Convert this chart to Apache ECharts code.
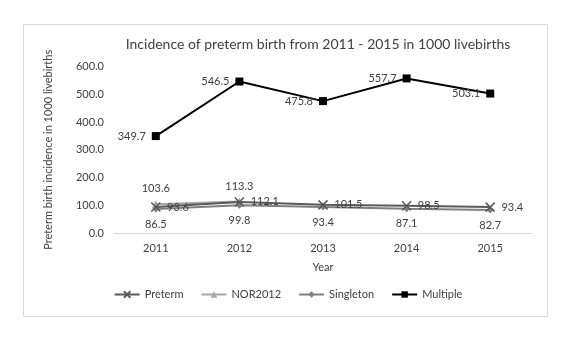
<!DOCTYPE html>
<html><head><meta charset="utf-8">
<script src="https://cdn.jsdelivr.net/npm/echarts@6/dist/echarts.min.js"></script>
<style>html,body{margin:0;padding:0;background:#fff}#c{width:576px;height:345px}</style>
</head><body><div id="c"></div>
<script>
const years = ['2011','2012','2013','2014','2015'];
const preterm = [93.6, 112.1, 101.5, 98.5, 93.4];
const nor2012 = [103.6, 113.3, null, null, null];
const singleton = [86.5, 99.8, 93.4, 87.1, 82.7];
const multiple = [349.7, 546.5, 475.8, 557.7, 503.1];

const FONT = 'Lato, "Open Sans", sans-serif';
const lbl = (pos) => ({show:true, position:pos, color:'#404040', fontSize:11, fontFamily:FONT, distance:6,
  formatter: p => p.value == null ? '' : p.value.toFixed(1)});

const chart = echarts.init(document.getElementById('c'));
chart.setOption({
  animation:false,
  title:{text:'Incidence of preterm birth from 2011 - 2015 in 1000 livebirths', left:313, top:32, textAlign:'center',
    textStyle:{fontSize:14, fontWeight:'normal', color:'#404040', fontFamily:FONT}},
  graphic:[{type:'rect', shape:{x:23.5,y:24.5,width:524,height:292}, style:{fill:'none', stroke:'#d9d9d9', lineWidth:1}, z:-1}],
  grid:{left:114, right:44, top:66.7, bottom:112, containLabel:false},
  legend:{bottom:40, left:'center', itemGap:17, itemWidth:25, itemHeight:8,
    textStyle:{color:'#404040', fontSize:11, fontFamily:FONT},
    data:['Preterm','NOR2012','Singleton','Multiple']},
  xAxis:{type:'category', data:years, boundaryGap:true,
    name:'Year', nameLocation:'middle', nameGap:29,
    nameTextStyle:{color:'#404040', fontSize:11, fontFamily:FONT},
    axisLine:{lineStyle:{color:'#d9d9d9'}}, axisTick:{show:false},
    axisLabel:{color:'#404040', fontSize:11, fontFamily:FONT, margin:10}},
  yAxis:{type:'value', min:0, max:600, interval:100,
    name:'Preterm birth incidence in 1000 livebirths', nameLocation:'middle', nameGap:60,
    nameTextStyle:{color:'#404040', fontSize:11, fontFamily:FONT},
    axisLine:{show:false}, axisTick:{show:false}, splitLine:{show:false},
    axisLabel:{color:'#404040', fontSize:11, fontFamily:FONT, margin:10, formatter:v=>v.toFixed(1)}},
  series:[
    {name:'Preterm', type:'line', data:preterm, symbol:'path://M0,0L10,10M10,0L0,10', symbolSize:9,
      itemStyle:{color:'#595959', borderColor:'#595959', borderWidth:1.5}, lineStyle:{color:'#595959', width:2},
      label:lbl('right'), z:3},
    {name:'NOR2012', type:'line', data:nor2012, symbol:'triangle', symbolSize:8,
      itemStyle:{color:'#a5a5a5'}, lineStyle:{color:'#a5a5a5', width:2}, label:lbl('top'), z:2},
    {name:'Singleton', type:'line', data:singleton, symbol:'diamond', symbolSize:7,
      itemStyle:{color:'#7f7f7f'}, lineStyle:{color:'#7f7f7f', width:2}, label:lbl('bottom'), z:2},
    {name:'Multiple', type:'line', data:multiple, symbol:'rect', symbolSize:8,
      itemStyle:{color:'#000000'}, lineStyle:{color:'#000000', width:2}, label:lbl('left'), z:4}
  ]
});
</script></body></html>
